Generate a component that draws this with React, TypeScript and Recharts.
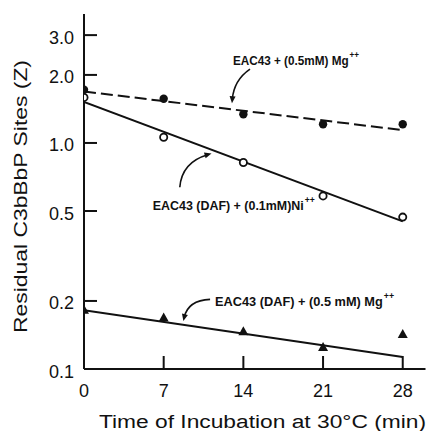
import React from "react";
import { ComposedChart, Line, Scatter, XAxis, YAxis, ReferenceDot, Label } from "recharts";

// ---- data ----
const times = [0, 7, 14, 21, 28];
const mgValues = [1.72, 1.57, 1.34, 1.21, 1.21];
const niValues = [1.59, 1.06, 0.82, 0.583, 0.47];
const dafMgValues = [0.183, 0.169, 0.147, 0.125, 0.143];

const fitTimes = [0, 28];
const mgFit = [1.69, 1.14];
const niFit = [1.52, 0.45];
const dafMgFit = [0.182, 0.113];

const xTicks = [0, 7, 14, 21, 28];
const yTicks = [0.1, 0.2, 0.5, 1, 2, 3];
const yTickLabels = ["0.1", "0.2", "0.5", "1.0", "2.0", "3.0"];

const seriesLabels = ["EAC43 + (0.5mM) Mg", "EAC43 (DAF) + (0.1mM)Ni", "EAC43 (DAF) + (0.5 mM) Mg"];
const seriesSup = ["++", "++", "++"];
const arrowTipTimes = [13.0, 11.2, 8.73];
const arrowTipValues = [1.5, 0.898, 0.163];

const xTitle = "Time of Incubation at 30°C (min)";
const yTitle = "Residual C3bBbP Sites (Z)";

// ---- styling ----
const FONT = "'Liberation Sans', Arial, sans-serif";
const INK = "#111";
const TICK = 13;
const GAP = 10;

const toPoints = (xs: number[], vs: number[]) => xs.map((t, i) => ({ t, v: vs[i] }));

const mgData = toPoints(times, mgValues);
const niData = toPoints(times, niValues);
const dafMgData = toPoints(times, dafMgValues);
const mgFitData = toPoints(fitTimes, mgFit);
const niFitData = toPoints(fitTimes, niFit);
const dafMgFitData = toPoints(fitTimes, dafMgFit);

// annotation layout (pixel offsets relative to arrow tip)
const annLayout = [
  { tail: [18, -34], ctrl: [2, -23], text: [1, -38], len: 126, supDy: -7 },
  { tail: [-31.7, 33.7], ctrl: [-29.7, 8.7], text: [-58.7, 56.7], len: 162, supDy: -7 },
  { tail: [26.7, -21.7], ctrl: [4.7, -20.7], text: [31.7, -14.7], len: 179, supDy: -7 },
];

// x, y given by recharts are the label anchor: GAP px outside the axis line
const XTick = (props: any) => {
  const { x, y, payload } = props;
  const axisY = y - GAP;
  return (
    <g>
      {payload.value !== xTicks[0] && (
        <line x1={x} x2={x} y1={axisY} y2={axisY - TICK} stroke={INK} strokeWidth={2} />
      )}
      <text x={x} y={y + 17.5} textAnchor="middle" fontSize={18} fontFamily={FONT} fill={INK}>
        {payload.value}
      </text>
    </g>
  );
};

const YTick = (props: any) => {
  const { x, y, payload } = props;
  const axisX = x + GAP;
  const idx = yTicks.indexOf(payload.value);
  return (
    <g>
      {payload.value !== yTicks[0] && (
        <line x1={axisX} x2={axisX + TICK} y1={y} y2={y} stroke={INK} strokeWidth={2} />
      )}
      <text x={x} y={y + 8.5} textAnchor="end" fontSize={18} fontFamily={FONT} fill={INK}>
        {idx >= 0 ? yTickLabels[idx] : payload.value}
      </text>
    </g>
  );
};

const FilledCircle = (p: any) => <circle cx={p.cx} cy={p.cy} r={4.2} fill={INK} />;
const OpenCircle = (p: any) => (
  <circle cx={p.cx} cy={p.cy} r={3.6} fill="#fff" stroke={INK} strokeWidth={1.8} />
);
const Triangle = (p: any) => (
  <path d={`M${p.cx},${p.cy - 5} L${p.cx + 5},${p.cy + 4} L${p.cx - 5},${p.cy + 4} Z`} fill={INK} />
);

const makeAnnotation = (i: number) => (p: any) => {
  const { cx, cy } = p;
  const L = annLayout[i];
  const tx = cx + L.tail[0], ty = cy + L.tail[1];
  const qx = cx + L.ctrl[0], qy = cy + L.ctrl[1];
  let dx = cx - qx, dy = cy - qy;
  const d = Math.hypot(dx, dy) || 1;
  dx /= d; dy /= d;
  const nx = -dy, ny = dx;
  const hl = 7, hw = 3;
  const head = `M${cx},${cy} L${cx - dx * hl + nx * hw},${cy - dy * hl + ny * hw} L${cx - dx * hl - nx * hw},${cy - dy * hl - ny * hw} Z`;
  return (
    <g>
      <path d={`M${tx},${ty} Q${qx},${qy} ${cx - dx * 4},${cy - dy * 4}`} fill="none" stroke={INK} strokeWidth={1.6} />
      <path d={head} fill={INK} />
      <text
        x={cx + L.text[0]}
        y={cy + L.text[1]}
        fontSize={13}
        fontWeight="bold"
        fontFamily={FONT}
        fill={INK}
        textLength={L.len}
        lengthAdjust="spacingAndGlyphs"
      >
        {seriesLabels[i]}
        <tspan dx={1} dy={L.supDy} fontSize={9}>{seriesSup[i]}</tspan>
      </text>
    </g>
  );
};

const XTitle = (props: any) => {
  const vb = props.viewBox || { x: 84, y: 369, width: 341, height: 62 };
  return (
    <text x={vb.x + 15} y={vb.y + 59} fontSize={18} fontFamily={FONT} fill={INK} textLength={327} lengthAdjust="spacingAndGlyphs">
      {xTitle}
    </text>
  );
};

const YTitle = (props: any) => {
  const vb = props.viewBox || { x: 0, y: 14, width: 84, height: 355 };
  const cx = vb.x + 27;
  const cy = vb.y + vb.height / 2 + 5;
  return (
    <text
      x={cx}
      y={cy}
      transform={`rotate(-90 ${cx} ${cy})`}
      textAnchor="middle"
      fontSize={18}
      fontFamily={FONT}
      fill={INK}
      textLength={273}
      lengthAdjust="spacingAndGlyphs"
    >
      {yTitle}
    </text>
  );
};

export default function App() {
  return (
    <div style={{ position: "absolute", left: 0, top: 0, width: 427, height: 431, background: "#fff" }}>
      <ComposedChart width={427} height={431} margin={{ top: 14, right: 1.5, bottom: 0, left: 0 }}>
        <XAxis
          type="number"
          dataKey="t"
          domain={[0, 30]}
          ticks={xTicks}
          interval={0}
          height={62}
          allowDataOverflow
          axisLine={{ stroke: INK, strokeWidth: 2 }}
          tickLine={false}
          tickSize={GAP}
          tickMargin={0}
          tick={<XTick />}
        >
          <Label content={<XTitle />} />
        </XAxis>
        <YAxis
          type="number"
          dataKey="v"
          scale="log"
          domain={[0.1, 3.72]}
          ticks={yTicks}
          interval={0}
          width={84}
          allowDataOverflow
          axisLine={{ stroke: INK, strokeWidth: 2 }}
          tickLine={false}
          tickSize={GAP}
          tickMargin={0}
          tick={<YTick />}
        >
          <Label content={<YTitle />} />
        </YAxis>

        <Line data={mgFitData} dataKey="v" type="linear" stroke={INK} strokeWidth={2} strokeDasharray="12 5" dot={false} activeDot={false} isAnimationActive={false} />
        <Line data={niFitData} dataKey="v" type="linear" stroke={INK} strokeWidth={2} dot={false} activeDot={false} isAnimationActive={false} />
        <Line data={dafMgFitData} dataKey="v" type="linear" stroke={INK} strokeWidth={2} dot={false} activeDot={false} isAnimationActive={false} />

        <Scatter data={mgData} dataKey="v" shape={<FilledCircle />} isAnimationActive={false} />
        <Scatter data={niData} dataKey="v" shape={<OpenCircle />} isAnimationActive={false} />
        <Scatter data={dafMgData} dataKey="v" shape={<Triangle />} isAnimationActive={false} />

        {arrowTipTimes.map((t, i) => (
          <ReferenceDot key={i} x={t} y={arrowTipValues[i]} r={0} ifOverflow="visible" shape={makeAnnotation(i)} />
        ))}
      </ComposedChart>
    </div>
  );
}
